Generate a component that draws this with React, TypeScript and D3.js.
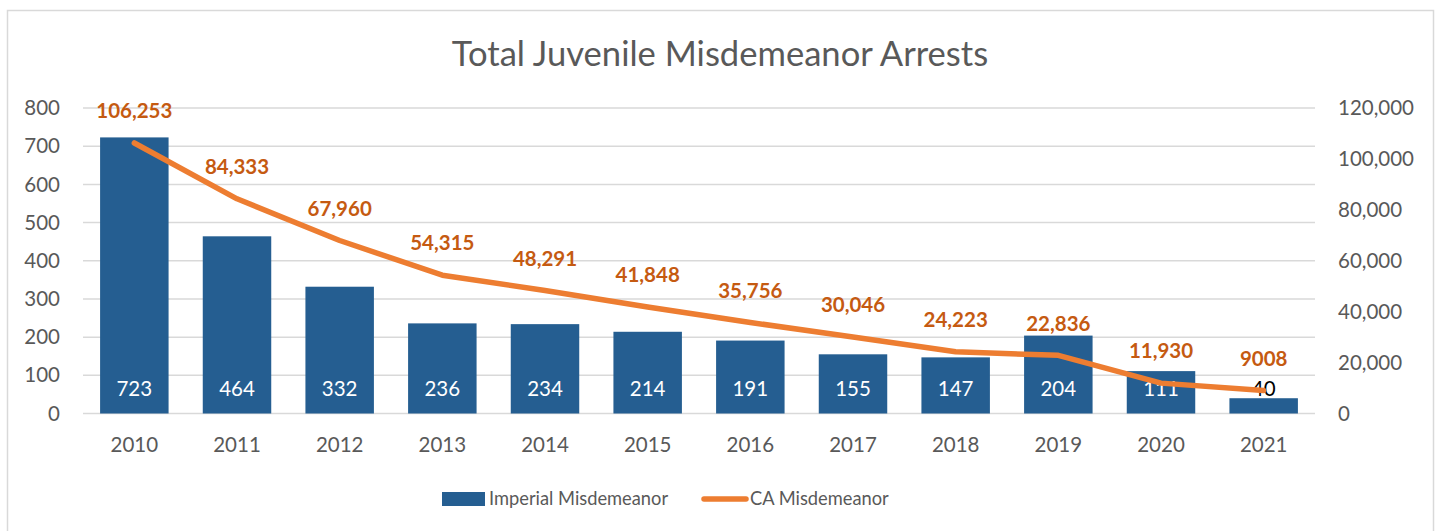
import React from "react";
import * as d3 from "d3";

const years = ["2010","2011","2012","2013","2014","2015","2016","2017","2018","2019","2020","2021"];
const imperial = [723, 464, 332, 236, 234, 214, 191, 155, 147, 204, 111, 40];
const ca = [106253, 84333, 67960, 54315, 48291, 41848, 35756, 30046, 24223, 22836, 11930, 9008];
const caLabels = ["106,253","84,333","67,960","54,315","48,291","41,848","35,756","30,046","24,223","22,836","11,930","9008"];
const leftTicks = [0, 100, 200, 300, 400, 500, 600, 700, 800];
const rightTicks = [0, 20000, 40000, 60000, 80000, 100000, 120000];

const FONT = "Lato, 'Open Sans', sans-serif";

export default function App() {
  const W = 1440, H = 531;
  const left = 83, right = 1315, top = 108, bottom = 413.5;
  const x = d3.scaleBand<string>().domain(years).range([left, right]).paddingInner(0.333).paddingOuter(0.1665);
  const yL = d3.scaleLinear().domain([0, 800]).range([bottom, top]);
  const yR = d3.scaleLinear().domain([0, 120000]).range([bottom, top]);
  const line = d3.line<number>()
    .x((_, i) => (x(years[i]) as number) + x.bandwidth() / 2)
    .y((d) => yR(d));
  const fmt = d3.format(",");
  return (
    <svg width={W} height={H} style={{ position: "absolute", left: 0, top: 0, background: "#fff" }} fontFamily={FONT}>
      <rect x={7.5} y={10.5} width={1426} height={560} fill="#fff" stroke="#D9D9D9" strokeWidth={1.5} />
      <text x={720} y={66} textAnchor="middle" fontSize={34.6} fill="#595959">Total Juvenile Misdemeanor Arrests</text>
      {leftTicks.map((t) => (
        <g key={"g" + t}>
          <line x1={left} x2={right} y1={yL(t)} y2={yL(t)} stroke="#D9D9D9" strokeWidth={1.5} />
          <text x={60} y={yL(t)} dy="0.35em" textAnchor="end" fontSize={20.5} fill="#595959">{t}</text>
        </g>
      ))}
      {rightTicks.map((t) => (
        <text key={"r" + t} x={1338} y={yR(t)} dy="0.35em" textAnchor="start" fontSize={20.5} fill="#595959">{fmt(t)}</text>
      ))}
      {years.map((yr, i) => (
        <g key={yr}>
          <rect x={x(yr)} y={yL(imperial[i])} width={x.bandwidth()} height={bottom - yL(imperial[i])} fill="#255E91" />
          <text x={(x(yr) as number) + x.bandwidth() / 2} y={452} textAnchor="middle" fontSize={20.5} fill="#595959">{yr}</text>
        </g>
      ))}
      {years.map((yr, i) => (
        <text key={"bl" + yr} x={(x(yr) as number) + x.bandwidth() / 2} y={389} dy="0.35em" textAnchor="middle" fontSize={20.5}
          fill={i === years.length - 1 ? "#000" : "#fff"}>{imperial[i]}</text>
      ))}
      <path d={line(ca) || ""} fill="none" stroke="#ED7D31" strokeWidth={5.5} strokeLinecap="round" strokeLinejoin="round" />
      {years.map((yr, i) => (
        <text key={"cl" + yr} x={(x(yr) as number) + x.bandwidth() / 2} y={yR(ca[i]) - 32} dy="0.35em" textAnchor="middle"
          fontSize={20.5} fontWeight="bold" fill="#C55A11">{caLabels[i]}</text>
      ))}
      <rect x={442} y={492} width={43} height={14} fill="#255E91" />
      <text x={489} y={499} dy="0.35em" fontSize={18.3} fill="#595959">Imperial Misdemeanor</text>
      <line x1={704} x2={746} y1={499} y2={499} stroke="#ED7D31" strokeWidth={5.5} strokeLinecap="round" />
      <text x={750} y={499} dy="0.35em" fontSize={18.3} fill="#595959">CA Misdemeanor</text>
    </svg>
  );
}
